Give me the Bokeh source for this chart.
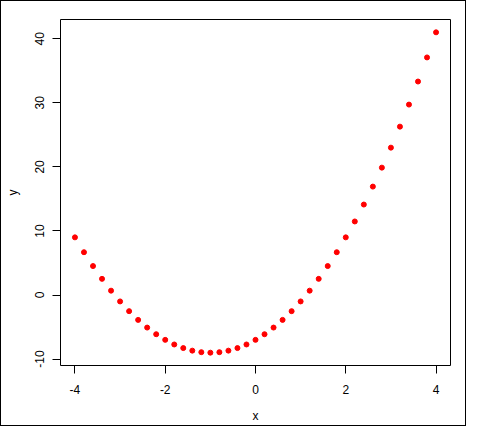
from bokeh.plotting import figure
from bokeh.models import Range1d, FixedTicker
from bokeh.embed import file_html
from bokeh.resources import INLINE

x_vals = [-4.0, -3.8, -3.6, -3.4, -3.2, -3.0, -2.8, -2.6, -2.4, -2.2, -2.0,
          -1.8, -1.6, -1.4, -1.2, -1.0, -0.8, -0.6, -0.4, -0.2, 0.0,
          0.2, 0.4, 0.6, 0.8, 1.0, 1.2, 1.4, 1.6, 1.8, 2.0,
          2.2, 2.4, 2.6, 2.8, 3.0, 3.2, 3.4, 3.6, 3.8, 4.0]
y_vals = [9.0, 6.68, 4.52, 2.52, 0.68, -1.0, -2.52, -3.88, -5.08, -6.12, -7.0,
          -7.72, -8.28, -8.68, -8.92, -9.0, -8.92, -8.68, -8.28, -7.72, -7.0,
          -6.12, -5.08, -3.88, -2.52, -1.0, 0.68, 2.52, 4.52, 6.68, 9.0,
          11.48, 14.12, 16.92, 19.88, 23.0, 26.28, 29.72, 33.32, 37.08, 41.0]
x_ticks = [-4, -2, 0, 2, 4]
y_ticks = [-10, 0, 10, 20, 30, 40]

FONT = "Liberation Sans"

p = figure(frame_width=390, frame_height=346,
           x_range=Range1d(-4.32, 4.32), y_range=Range1d(-11, 43),
           output_backend="svg", toolbar_location=None,
           min_border_left=59, min_border_top=18, min_border_right=15,
           min_border_bottom=58)
p.styles = {"border": "1px solid black"}

p.scatter(x_vals, y_vals, size=5, fill_color="#FF0000", line_color="#FF0000")

p.xgrid.visible = False
p.ygrid.visible = False
p.outline_line_color = "black"
p.outline_line_width = 1
p.outline_line_alpha = 1

p.xaxis.ticker = FixedTicker(ticks=x_ticks)
p.yaxis.ticker = FixedTicker(ticks=y_ticks)
p.xaxis.major_label_overrides = {t: str(t) for t in x_ticks}
p.yaxis.major_label_overrides = {t: str(t) for t in y_ticks}

for ax in (p.xaxis[0], p.yaxis[0]):
    ax.axis_line_color = None
    ax.minor_tick_line_color = None
    ax.major_tick_in = 0
    ax.major_tick_out = 8
    ax.major_tick_line_color = "black"
    ax.major_label_text_font = FONT
    ax.major_label_text_font_size = "12px"
    ax.major_label_text_color = "black"
    ax.axis_label_text_font = FONT
    ax.axis_label_text_font_size = "12px"
    ax.axis_label_text_font_style = "normal"
    ax.axis_label_text_color = "black"

p.xaxis.axis_label = "x"
p.yaxis.axis_label = "y"
p.yaxis.major_label_orientation = "vertical"
p.xaxis.major_label_standoff = 11
p.yaxis.major_label_standoff = 8
p.xaxis.axis_label_standoff = 12
p.yaxis.axis_label_standoff = 13

open("out.html", "w").write(file_html(p, INLINE))
